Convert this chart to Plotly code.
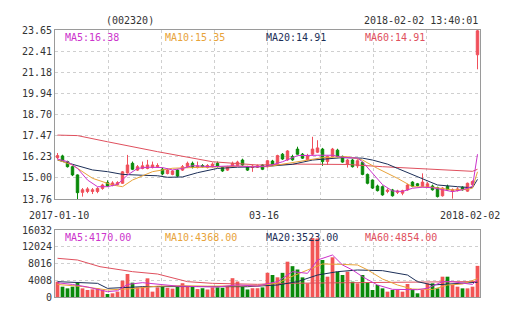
import plotly.graph_objects as go

# ---- price candles (one per trading session) ----
opens = [16.18, 16.28, 15.95, 15.65, 15.17, 14.15, 14.20, 14.20, 14.20, 14.38,
         14.72, 14.55, 14.60, 14.68, 15.28, 15.85, 15.45, 15.55, 15.55, 15.60,
         15.65, 15.50, 15.25, 15.20, 15.45, 15.45, 15.65, 15.85, 15.60, 15.72,
         15.60, 15.65, 15.85, 15.60, 15.45, 15.65, 15.72, 16.04, 15.65, 15.60,
         15.62, 15.75, 15.65, 15.98, 15.85, 16.38, 16.05, 16.25, 16.68, 16.38,
         16.05, 16.38, 16.50, 16.68, 15.95, 16.25, 16.62, 16.25, 15.80, 16.04,
         15.70, 15.90, 15.20, 14.87, 14.52, 14.48, 14.20, 14.29, 14.15, 14.10,
         14.29, 14.75, 14.65, 14.50, 14.45, 14.52, 14.42, 13.95, 14.50, 14.20,
         14.25, 14.45, 14.22, 14.60, 22.20]
highs = [16.45, 16.35, 16.00, 15.70, 15.20, 14.40, 14.45, 14.40, 14.45, 14.65,
         14.85, 14.80, 14.80, 15.40, 16.34, 15.95, 15.75, 15.95, 16.05, 15.95,
         15.85, 15.60, 15.55, 15.45, 15.50, 15.75, 15.95, 15.95, 15.95, 15.80,
         15.80, 15.90, 15.95, 15.65, 15.70, 15.95, 16.00, 16.12, 15.70, 15.75,
         15.78, 15.80, 16.05, 16.05, 16.35, 16.45, 16.62, 16.35, 16.82, 16.45,
         16.40, 17.40, 17.20, 16.75, 16.30, 16.75, 16.70, 16.30, 16.10, 16.10,
         16.08, 15.95, 15.25, 14.90, 14.60, 14.55, 14.38, 14.35, 14.30, 14.30,
         14.65, 14.80, 14.70, 15.26, 14.75, 14.60, 14.48, 14.45, 14.60, 14.38,
         14.45, 14.50, 14.72, 14.85, 23.65]
lows = [16.10, 15.95, 15.60, 15.10, 13.70, 13.90, 14.10, 14.05, 14.10, 14.30,
        14.50, 14.50, 14.55, 14.65, 15.25, 15.45, 15.40, 15.50, 15.50, 15.55,
        15.60, 15.15, 15.20, 15.15, 15.05, 15.40, 15.60, 15.55, 15.55, 15.60,
        15.55, 15.60, 15.60, 15.35, 15.40, 15.60, 15.68, 15.70, 15.40, 15.35,
        15.58, 15.45, 15.60, 15.70, 15.80, 16.05, 16.00, 16.00, 16.35, 16.10,
        16.00, 16.30, 16.45, 15.70, 15.75, 16.20, 16.20, 15.88, 15.60, 15.60,
        15.57, 15.15, 14.62, 14.35, 14.20, 13.95, 14.10, 13.90, 14.05, 13.98,
        14.25, 14.45, 14.50, 14.45, 14.40, 14.25, 13.85, 13.90, 14.25, 13.78,
        14.20, 14.25, 14.18, 14.55, 21.35]
closes = [16.30, 16.00, 15.65, 15.17, 14.13, 14.30, 14.35, 14.30, 14.38, 14.58,
          14.52, 14.70, 14.72, 15.35, 15.75, 15.50, 15.65, 15.70, 15.75, 15.75,
          15.72, 15.23, 15.45, 15.40, 15.10, 15.65, 15.85, 15.60, 15.70, 15.65,
          15.72, 15.80, 15.68, 15.40, 15.62, 15.85, 15.92, 15.75, 15.45, 15.68,
          15.70, 15.50, 16.00, 15.75, 16.30, 16.10, 16.57, 16.05, 16.38, 16.15,
          16.30, 16.68, 16.75, 15.95, 16.25, 16.68, 16.25, 15.92, 16.04, 15.65,
          16.00, 15.20, 14.68, 14.40, 14.25, 14.00, 14.28, 13.95, 14.22, 14.25,
          14.58, 14.50, 14.55, 14.75, 14.65, 14.30, 13.90, 14.40, 14.30, 14.30,
          14.35, 14.30, 14.68, 14.78, 23.60]

# ---- traded volume per session ----
volumes = [3660, 2470, 2070, 2470, 3430, 2070, 1680, 1830, 2070, 1680,
           720, 880, 1280, 3900, 5500, 3430, 2310, 2470, 4470, 1280,
           2300, 2600, 2200, 2000, 2500, 3300, 2400, 2400, 1900, 2100,
           1800, 2300, 2300, 2200, 2600, 4500, 3700, 2400, 1800, 2100,
           2100, 2300, 5800, 5260, 4710, 5780, 8450, 7380, 6580, 4700,
           3270, 14100, 14000, 8850, 4860, 9500, 6060, 5260, 6060, 3670,
           3270, 5260, 3500, 1680, 2870, 2070, 1280, 1680, 1680, 1280,
           3110, 1830, 880, 1680, 3270, 3270, 2070, 4860, 4860, 2870,
           2470, 2070, 2070, 2470, 7450]

# ---- moving averages of price (session index, value) ----
ma5_x = [0, 2, 4, 6, 8, 10, 12, 14, 16, 18, 21, 23, 25, 27, 31, 35, 39, 42, 45,
         48, 52, 55, 57, 60, 61, 63, 65, 67, 69, 71, 73, 75, 77, 79, 81, 83, 84]
ma5_y = [16.10, 15.95, 15.55, 14.87, 14.48, 14.48, 14.62, 15.16, 15.55, 15.62,
         15.60, 15.46, 15.55, 15.71, 15.65, 15.70, 15.65, 15.68, 15.94, 16.30,
         16.32, 16.32, 16.20, 16.15, 15.94, 15.30, 14.60, 14.23, 14.20, 14.39,
         14.45, 14.42, 14.29, 14.19, 14.30, 14.50, 16.38]
ma10_x = [0, 3, 7, 11, 13, 15, 19, 23, 27, 32, 37, 42, 48, 53, 58, 61, 64, 68,
          71, 75, 79, 82, 83, 84]
ma10_y = [16.05, 15.75, 14.97, 14.58, 14.48, 14.87, 15.36, 15.56, 15.60, 15.65,
          15.68, 15.65, 15.94, 16.18, 16.24, 16.04, 15.55, 14.97, 14.48, 14.45,
          14.29, 14.32, 14.40, 15.35]
ma20_x = [0, 3, 7, 10, 13, 17, 20, 22, 25, 28, 32, 36, 41, 47, 51, 57, 61, 63,
          66, 68, 71, 73, 76, 80, 83, 84]
ma20_y = [16.04, 15.79, 15.46, 15.36, 15.20, 15.15, 15.12, 15.03, 15.05, 15.30,
          15.55, 15.62, 15.65, 15.79, 16.04, 16.18, 16.15, 16.04, 15.80, 15.55,
          15.20, 14.97, 14.58, 14.48, 14.42, 14.91]
ma60_x = [0, 4, 10, 20, 31, 40, 48, 58, 65, 78, 83, 84]
ma60_y = [17.50, 17.47, 17.11, 16.53, 15.94, 15.75, 15.80, 15.78, 15.65, 15.46,
          15.38, 15.50]

# ---- moving averages of volume ----
vma5_x = [0, 3, 6, 9, 10, 12, 14, 17, 20, 24, 28, 32, 36, 40, 42, 44, 47, 50,
          52, 55, 57, 59, 61, 64, 67, 70, 72, 74, 77, 79, 81, 83, 84]
vma5_y = [3400, 3000, 2400, 1600, 1280, 1500, 3000, 3430, 3000, 2600, 2500,
          2400, 2900, 2600, 3200, 3670, 6060, 5660, 8850, 10050, 7660, 6460,
          4860, 2870, 1830, 1700, 1750, 2100, 3670, 3670, 3300, 3000, 4170]
vma10_x = [0, 5, 10, 15, 20, 25, 30, 35, 40, 44, 46, 50, 53, 57, 60, 62, 65,
           68, 71, 75, 78, 81, 84]
vma10_y = [3000, 2500, 1680, 2000, 2600, 2700, 2600, 2600, 2700, 3300, 4470,
           6460, 7900, 7800, 7660, 6500, 4300, 2870, 1900, 1800, 2870, 3100, 4368]
vma20_x = [0, 8, 10, 17, 25, 31, 38, 44, 48, 52, 56, 60, 65, 70, 72, 75, 84]
vma20_y = [3670, 3270, 2070, 2470, 2500, 2500, 2470, 2870, 3670, 5260, 6060,
           6460, 6300, 5260, 3670, 2870, 3523]
vma60_x = [0, 4, 8.5, 15, 20, 26, 31, 40, 45, 58, 72, 84]
vma60_y = [9260, 8850, 7250, 6060, 5500, 3670, 3270, 3030, 3270, 3430, 3670, 3700]

# ---- axis labels ----
price_ticks = [13.76, 15.00, 16.23, 17.47, 18.70, 19.94, 21.18, 22.41, 23.65]
price_tick_text = ["13.76", "15.00", "16.23", "17.47", "18.70", "19.94", "21.18", "22.41", "23.65"]
vol_ticks = [0, 4008, 8016, 12024, 16032]
vol_tick_text = ["0", "4008", "8016", "12024", "16032"]
date_labels = ["2017-01-10", "03-16", "2018-02-02"]

RED = "#f04f5a"
RED_VOL = "#f25555"
GREEN = "#0a8a0a"
C_MA5 = "#cc33cc"
C_MA10 = "#e8a33a"
C_MA20 = "#1c2f58"
C_MA60 = "#e0505e"
FONT = "DejaVu Sans Mono"

n = len(closes)
idx = list(range(n))

fig = go.Figure()

fig.add_trace(go.Candlestick(
    x=idx, open=opens, high=highs, low=lows, close=closes,
    increasing=dict(line=dict(color=RED, width=1), fillcolor=RED),
    decreasing=dict(line=dict(color=GREEN, width=1), fillcolor=GREEN),
    whiskerwidth=0, showlegend=False, xaxis="x", yaxis="y",
))

for xs, ys, col in [(ma60_x, ma60_y, C_MA60), (ma20_x, ma20_y, C_MA20),
                    (ma10_x, ma10_y, C_MA10), (ma5_x, ma5_y, C_MA5)]:
    fig.add_trace(go.Scatter(x=xs, y=ys, mode="lines", line=dict(color=col, width=1),
                             showlegend=False, hoverinfo="skip", xaxis="x", yaxis="y"))

vol_colors = [RED_VOL if c >= o else GREEN for o, c in zip(opens, closes)]
fig.add_trace(go.Bar(x=idx, y=volumes, marker=dict(color=vol_colors, line=dict(width=0)),
                     showlegend=False, xaxis="x2", yaxis="y2"))

for xs, ys, col in [(vma60_x, vma60_y, C_MA60), (vma20_x, vma20_y, C_MA20),
                    (vma10_x, vma10_y, C_MA10), (vma5_x, vma5_y, C_MA5)]:
    fig.add_trace(go.Scatter(x=xs, y=ys, mode="lines", line=dict(color=col, width=1),
                             showlegend=False, hoverinfo="skip", xaxis="x2", yaxis="y2"))

# layout geometry in pixels
W, H = 505, 330
L, R, T, B = 55, 25, 30, 33
PW, PH = W - L - R, H - T - B


def px_x(p):
    return (p - L) / PW


def px_y(p):
    return (H - B - p) / PH


grid_pos = [-0.5 + k * n / 8 for k in range(1, 8)]
xcommon = dict(range=[-0.5, n - 0.5], tickvals=grid_pos, showticklabels=False,
               showgrid=True, gridcolor="#cfcfcf", griddash="dot", gridwidth=1,
               zeroline=False, showline=True, mirror=True, linecolor="#9a9a9a",
               linewidth=1, ticks="", fixedrange=True)
ycommon = dict(showgrid=True, gridcolor="#cfcfcf", griddash="dot", gridwidth=1,
               zeroline=False, showline=True, mirror=True, linecolor="#9a9a9a",
               linewidth=1, ticks="", tickfont=dict(family=FONT, size=10, color="#333"),
               fixedrange=True)

fig.update_layout(
    width=W, height=H,
    margin=dict(l=L, r=R, t=T, b=B, pad=0),
    paper_bgcolor="white", plot_bgcolor="white",
    bargap=0.25,
    xaxis=dict(domain=[0, 1], anchor="y", rangeslider=dict(visible=False), **xcommon),
    yaxis=dict(domain=[px_y(199), 1], range=[13.76, 23.65], tickvals=price_ticks,
               ticktext=price_tick_text, **ycommon),
    xaxis2=dict(domain=[0, 1], anchor="y2", **xcommon),
    yaxis2=dict(domain=[0, px_y(230)], range=[0, 16032], tickvals=vol_ticks,
                ticktext=vol_tick_text, **ycommon),
    font=dict(family=FONT, size=10, color="#333"),
)

ann = []


def text(s, x, y, color="#333", anchor="left"):
    ann.append(dict(text=s, x=px_x(x), y=px_y(y), xref="paper", yref="paper",
                    xanchor=anchor, yanchor="middle", showarrow=False,
                    font=dict(family=FONT, size=10, color=color)))


text("(002320)", 130, 21, anchor="center")
text("2018-02-02 13:40:01", 480, 21, anchor="right")
text("MA5:16.38", 63, 38, C_MA5)
text("MA10:15.35", 163, 38, C_MA10)
text("MA20:14.91", 264, 38, C_MA20)
text("MA60:14.91", 363, 38, C_MA60)
text(date_labels[0], 59, 216, anchor="center")
text(date_labels[1], 264, 216, anchor="center")
text(date_labels[2], 470, 216, anchor="center")
text("MA5:4170.00", 63, 237, C_MA5)
text("MA10:4368.00", 163, 237, C_MA10)
text("MA20:3523.00", 264, 237, C_MA20)
text("MA60:4854.00", 363, 237, C_MA60)
fig.update_layout(annotations=ann)

fig.write_html("out.html")
